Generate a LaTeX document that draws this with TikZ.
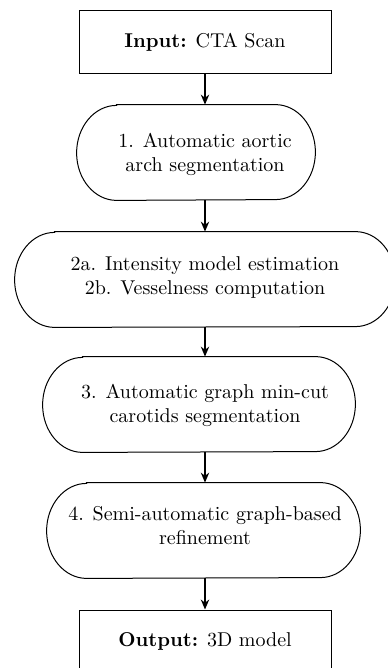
\documentclass[tikz,border=0pt]{standalone}
\usetikzlibrary{arrows.meta}
\newcommand{\pillshape}[1]{%
  \draw[line width=0.5pt] (#1.north west) -- (#1.north east)
    arc[start angle=90, end angle=-90, x radius=20pt, y radius=23.75pt]
    -- (#1.south west)
    arc[start angle=270, end angle=90, x radius=20pt, y radius=23.75pt] -- cycle;}
\begin{document}
\begin{tikzpicture}[x=0.5pt,y=-0.5pt,
  box/.style={draw, rectangle, line width=0.5pt, minimum height=31.5pt, minimum width=126pt, inner sep=0pt, align=center},
  stage/.style={rectangle, minimum height=47.5pt, inner sep=0pt},
  lbl/.style={inner sep=0pt, align=center},
  flow/.style={line width=0.6pt, -{Stealth[length=5pt,width=4.2pt]}}]
\useasboundingbox (0,0) rectangle (387,668);
\node[box] (in) at (205,42.5) {\textbf{Input:} CTA Scan};
\node[stage, minimum width=79pt] (s1) at (196,152.5) {};
\node[lbl] (t1) at (205,154) {1. Automatic aortic\\arch segmentation};
\node[stage, minimum width=150pt] (s2) at (205,279.5) {};
\node[lbl] (t2) at (205,277) {2a. Intensity model estimation\\2b. Vesselness computation};
\node[stage, minimum width=116pt] (s3) at (199,404.5) {};
\node[lbl] (t3) at (205,405) {3. Automatic graph min-cut\\carotids segmentation};
\node[stage, minimum width=116.5pt] (s4) at (203.5,530.5) {};
\node[lbl] (t4) at (205,526) {4. Semi-automatic graph-based\\refinement};
\node[box] (out) at (205,641.5) {\textbf{Output:} 3D model};
\pillshape{s1}
\pillshape{s2}
\pillshape{s3}
\pillshape{s4}
\draw[flow] (in.south) -- (in.south |- s1.north);
\draw[flow] (in.south |- s1.south) -- (in.south |- s2.north);
\draw[flow] (in.south |- s2.south) -- (in.south |- s3.north);
\draw[flow] (in.south |- s3.south) -- (in.south |- s4.north);
\draw[flow] (in.south |- s4.south) -- (out.north);
\end{tikzpicture}
\end{document}
